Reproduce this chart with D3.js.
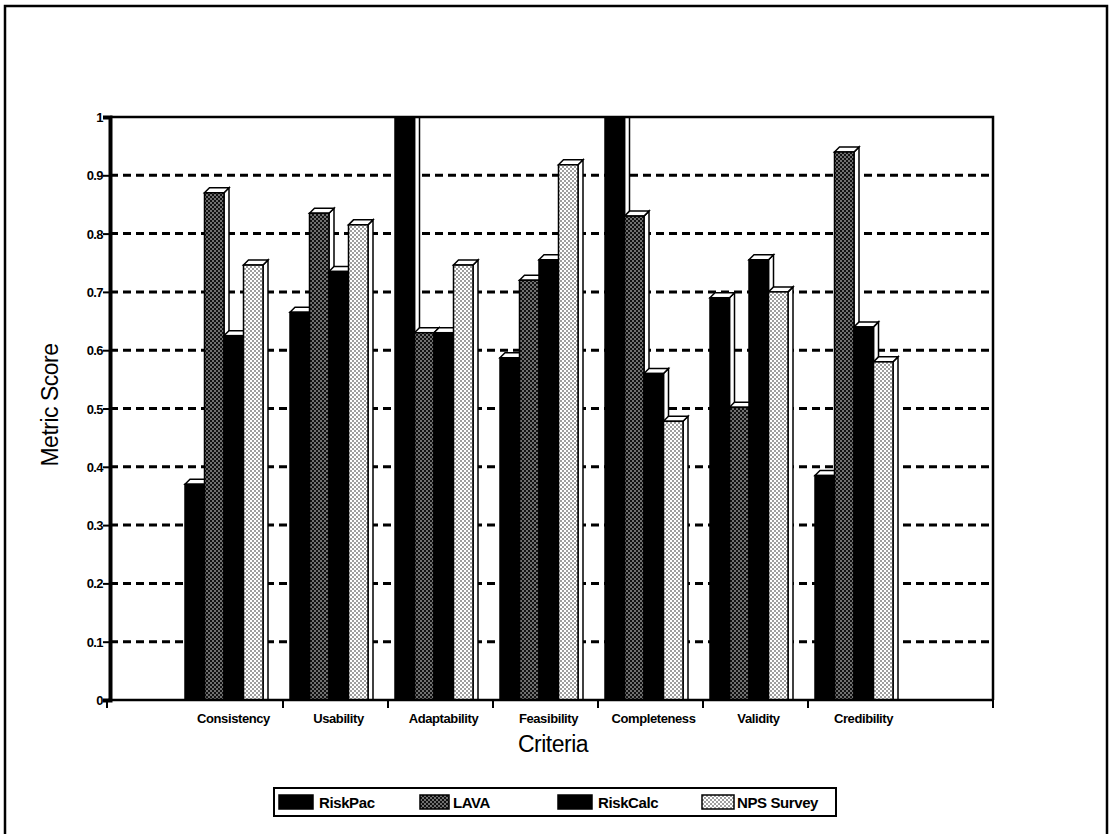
<!DOCTYPE html>
<html lang="en">
<head>
  <meta charset="UTF-8">
  <title>Metric Score by Criteria</title>
  <style>
    body { margin: 0; background: #fff; }
    svg { display: block; }
    text { font-family: Arial, "Liberation Sans", Helvetica, sans-serif; fill: #000; }
    .tick-label { font-size: 13px; font-weight: bold; letter-spacing: -0.6px; }
    .cat-label { font-size: 13px; font-weight: bold; letter-spacing: -0.4px; }
    .axis-title { font-size: 23px; letter-spacing: -0.5px; }
    .legend text { font-size: 15px; font-weight: bold; letter-spacing: -0.4px; }
  </style>
</head>
<body>
  <svg id="chart" width="1112" height="834"></svg>
  <script src="https://d3js.org/d3.v7.min.js"></script>
  <script>
    const categories = ['Consistency', 'Usability', 'Adaptability', 'Feasibility', 'Completeness', 'Validity', 'Credibility']
    const seriesNames = ['RiskPac', 'LAVA', 'RiskCalc', 'NPS Survey']
    const riskPac = [0.37, 0.665, 1.0, 0.587, 1.0, 0.69, 0.385]
    const lava = [0.87, 0.835, 0.63, 0.72, 0.83, 0.502, 0.94]
    const riskCalc = [0.625, 0.735, 0.63, 0.755, 0.56, 0.755, 0.64]
    const npsSurvey = [0.746, 0.815, 0.746, 0.918, 0.478, 0.70, 0.58]
    const yTicks = [0, 0.1, 0.2, 0.3, 0.4, 0.5, 0.6, 0.7, 0.8, 0.9, 1]

    const seriesValues = [riskPac, lava, riskCalc, npsSurvey]
    const fills = ['#000', 'url(#lavaPat)', '#000', 'url(#npsPat)']

    const svg = d3.select('#chart')
    const plotLeft = 110, plotRight = 993, plotTop = 117, plotBottom = 700
    const depth = 5

    // outer frame
    svg.append('rect')
      .attr('x', 5).attr('y', 6).attr('width', 1102).attr('height', 840)
      .attr('fill', 'none').attr('stroke', '#000').attr('stroke-width', 2.5)

    const defs = svg.append('defs')
    const lavaPat = defs.append('pattern').attr('id', 'lavaPat')
      .attr('width', 4).attr('height', 4).attr('patternUnits', 'userSpaceOnUse')
    lavaPat.append('rect').attr('width', 4).attr('height', 4).attr('fill', '#111')
    lavaPat.append('circle').attr('cx', 1).attr('cy', 1).attr('r', 0.75).attr('fill', '#fff')
    lavaPat.append('circle').attr('cx', 3).attr('cy', 3).attr('r', 0.75).attr('fill', '#fff')

    const npsPat = defs.append('pattern').attr('id', 'npsPat')
      .attr('width', 4).attr('height', 4).attr('patternUnits', 'userSpaceOnUse')
    npsPat.append('rect').attr('width', 4).attr('height', 4).attr('fill', '#fff')
    npsPat.append('circle').attr('cx', 1).attr('cy', 1).attr('r', 0.8).attr('fill', '#222')
    npsPat.append('circle').attr('cx', 3).attr('cy', 3).attr('r', 0.8).attr('fill', '#222')

    defs.append('clipPath').attr('id', 'plotClip')
      .append('rect').attr('x', plotLeft).attr('y', plotTop)
      .attr('width', plotRight - plotLeft).attr('height', plotBottom - plotTop + 2)

    const y = d3.scaleLinear().domain([0, 1]).range([plotBottom, plotTop])
    const x = d3.scaleBand().domain(categories).range([178, 913])
    const xs = d3.scaleBand().domain(seriesNames).range([7, 85])

    // dashed gridlines
    svg.append('g').selectAll('line')
      .data(yTicks.filter(d => d > 0 && d < 1))
      .join('line')
      .attr('x1', plotLeft).attr('x2', plotRight)
      .attr('y1', d => y(d)).attr('y2', d => y(d))
      .attr('stroke', '#000').attr('stroke-width', 3)
      .attr('stroke-dasharray', '8,5')

    // 3D bars
    const bars = svg.append('g').attr('clip-path', 'url(#plotClip)')
    const w = xs.bandwidth()
    categories.forEach((cat, ci) => {
      seriesNames.forEach((s, si) => {
        const v = seriesValues[si][ci]
        const x0 = x(cat) + xs(s)
        const y0 = y(v)
        const g = bars.append('g').attr('stroke', '#000').attr('stroke-width', 1.5)
        g.append('path')
          .attr('d', `M${x0 + w},${y0} L${x0 + w + depth},${y0 - depth} L${x0 + w + depth},${plotBottom} L${x0 + w},${plotBottom} Z`)
          .attr('fill', '#fff')
        g.append('path')
          .attr('d', `M${x0},${y0} L${x0 + depth},${y0 - depth} L${x0 + w + depth},${y0 - depth} L${x0 + w},${y0} Z`)
          .attr('fill', '#fff')
        g.append('rect')
          .attr('x', x0).attr('y', y0).attr('width', w).attr('height', plotBottom - y0)
          .attr('fill', fills[si])
      })
    })

    // frame top and right
    svg.append('path')
      .attr('d', `M${plotLeft},${plotTop} L${plotRight},${plotTop} L${plotRight},${plotBottom}`)
      .attr('fill', 'none').attr('stroke', '#000').attr('stroke-width', 2.5)

    // y axis
    const yAxis = svg.append('g')
      .attr('transform', `translate(${plotLeft},0)`)
      .call(d3.axisLeft(y).tickValues(yTicks).tickSize(7).tickPadding(0)
        .tickFormat(d => d === 0 ? '0' : d === 1 ? '1' : d3.format('.1f')(d)))
    yAxis.select('.domain').attr('stroke-width', 4)
    yAxis.selectAll('.tick line').attr('stroke-width', 2)
    yAxis.selectAll('.tick text').attr('class', 'tick-label').attr('dy', '0.35em')

    // x axis
    const xAxis = svg.append('g')
    xAxis.append('line')
      .attr('x1', plotLeft - 2).attr('x2', plotRight + 1).attr('y1', plotBottom).attr('y2', plotBottom)
      .attr('stroke', '#000').attr('stroke-width', 2.5)
    const xTickPos = [plotLeft - 3, ...categories.slice(1).map(c => x(c)), plotRight]
    xAxis.selectAll('.xtick')
      .data(xTickPos)
      .join('line')
      .attr('class', 'xtick')
      .attr('x1', d => d).attr('x2', d => d)
      .attr('y1', plotBottom).attr('y2', plotBottom + 8)
      .attr('stroke', '#000').attr('stroke-width', 2)
    xAxis.selectAll('.cat-label')
      .data(categories)
      .join('text')
      .attr('class', 'cat-label')
      .attr('x', d => x(d) + x.bandwidth() / 2 + 3)
      .attr('y', plotBottom + 23)
      .attr('text-anchor', 'middle')
      .text(d => d)

    // axis titles
    svg.append('text')
      .attr('class', 'axis-title')
      .attr('transform', 'translate(58,405) rotate(-90)')
      .attr('text-anchor', 'middle')
      .text('Metric Score')
    svg.append('text')
      .attr('class', 'axis-title')
      .attr('x', 553).attr('y', 752)
      .attr('text-anchor', 'middle')
      .text('Criteria')

    // legend
    const legend = svg.append('g').attr('class', 'legend')
    legend.append('rect')
      .attr('x', 274).attr('y', 788).attr('width', 562).attr('height', 28)
      .attr('fill', '#fff').attr('stroke', '#000').attr('stroke-width', 2)
    const legendX = [279, 420, 558, 702]
    const items = legend.selectAll('.legend-item')
      .data(seriesNames)
      .join('g')
      .attr('class', 'legend-item')
      .attr('transform', (d, i) => `translate(${legendX[i]},795)`)
    items.append('rect')
      .attr('width', (d, i) => i === 1 ? 29 : i === 3 ? 32 : 34).attr('height', 14)
      .attr('fill', (d, i) => fills[i])
      .attr('stroke', '#000').attr('stroke-width', 1.5)
    items.append('text')
      .attr('x', (d, i) => i === 1 ? 33 : i === 3 ? 35 : 40).attr('y', 13)
      .text(d => d)
  </script>
</body>
</html>
